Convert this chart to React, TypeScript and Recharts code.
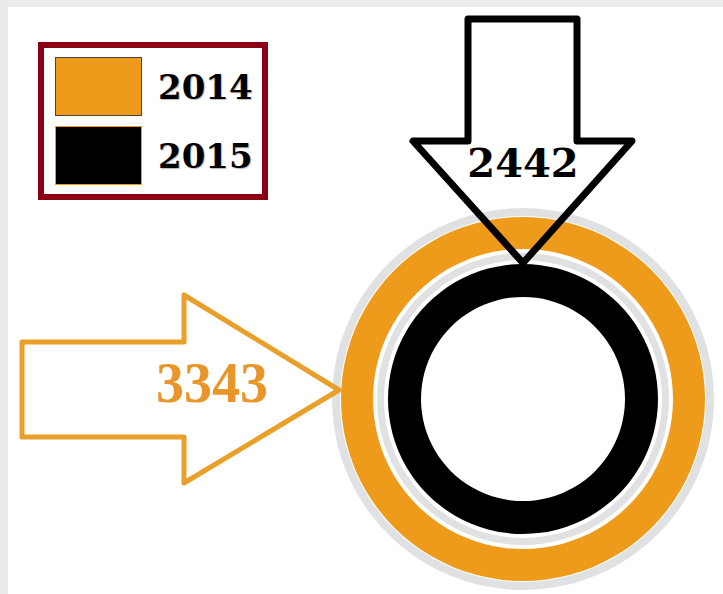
import { PieChart, Pie, Legend } from "recharts";

const years = ["2014", "2015"];
const totals = [3343, 2442];
const colors = ["#EE9A1A", "#000000"];

const ring2014 = [{ name: years[0], value: totals[0] }];
const ring2015 = [{ name: years[1], value: totals[1] }];
const track = [{ name: "track", value: 1 }];

const orangeLine = "#E9A02B";
const trackGray = "#DFE1E3";

// arrow pointing right at the outer (2014) ring
function ArrowRight(props: any) {
  const { cx, cy, outerRadius, value } = props;
  const tx = cx - outerRadius - 2;
  const ty = cy - 9;
  const pts = [
    [tx, ty], [tx - 155, ty - 95], [tx - 155, ty - 48], [tx - 317, ty - 48],
    [tx - 317, ty + 47], [tx - 155, ty + 47], [tx - 155, ty + 93],
  ].map((p) => p.join(",")).join(" ");
  return (
    <g>
      <polygon points={pts} fill="#fff" stroke={orangeLine} strokeWidth={5} strokeLinejoin="round" />
      <text x={tx - 127} y={ty + 12} textAnchor="middle" fill="#E8962A"
        fontFamily="'Liberation Serif', serif" fontWeight="bold" fontSize={56}>
        {value}
      </text>
    </g>
  );
}

// arrow pointing down at the inner (2015) ring
function ArrowDown(props: any) {
  const { cx, cy, outerRadius, value } = props;
  const tx = cx;
  const ty = cy - outerRadius - 1;
  const pts = [
    [tx, ty], [tx - 110, ty - 122], [tx - 55, ty - 122], [tx - 55, ty - 244],
    [tx + 54, ty - 244], [tx + 54, ty - 122], [tx + 109, ty - 122],
  ].map((p) => p.join(",")).join(" ");
  return (
    <g>
      <polygon points={pts} fill="none" stroke="#000" strokeWidth={7} strokeLinejoin="round" />
      <text x={tx} y={ty - 86} textAnchor="middle" fill="#000"
        fontFamily="'DejaVu Serif', serif" fontWeight="bold" fontSize={40}>
        {value}
      </text>
    </g>
  );
}

function LegendBox() {
  return (
    <div style={{
      width: 218, height: 146, border: "6px solid #8B0015", background: "#fff",
      boxSizing: "content-box", position: "relative",
    }}>
      {years.map((y, i) => (
        <div key={y} style={{ position: "absolute", left: 11, top: 9 + i * 69, display: "flex", alignItems: "center" }}>
          <div style={{
            width: 85, height: 57, background: colors[i],
            border: i === 0 ? "1px solid #444" : "1px solid #EE9A1A",
          }} />
          <span style={{
            marginLeft: 16, fontFamily: "'DejaVu Serif', serif", fontWeight: "bold",
            fontSize: 34, color: "#000", textShadow: "1px 1px 1px #bbb",
          }}>{y}</span>
        </div>
      ))}
    </div>
  );
}

export default function App() {
  return (
    <div style={{ position: "fixed", left: 0, top: 0, width: 723, height: 594, background: "#EBEBEB" }}>
      <div style={{ position: "absolute", left: 8, top: 7, width: 715, height: 587, background: "#fff" }}>
        <PieChart width={715} height={587} margin={{ top: 0, right: 0, bottom: 0, left: 0 }}>
          <Pie data={track} dataKey="value" cx={515} cy={392} innerRadius={183} outerRadius={191}
            fill={trackGray} stroke="none" isAnimationActive={false} />
          <Pie data={ring2014} dataKey="value" cx={515} cy={392} innerRadius={150} outerRadius={182}
            fill={colors[0]} stroke="none" isAnimationActive={false}
            label={ArrowRight} labelLine={false} />
          <Pie data={track} dataKey="value" cx={515} cy={392} innerRadius={139} outerRadius={146}
            fill={trackGray} stroke="none" isAnimationActive={false} />
          <Pie data={ring2015} dataKey="value" cx={515} cy={392} innerRadius={102} outerRadius={135}
            fill={colors[1]} stroke="none" isAnimationActive={false}
            label={ArrowDown} labelLine={false} />
          <Legend content={LegendBox} layout="horizontal" verticalAlign="middle" align="center"
            wrapperStyle={{ position: "absolute", left: 30, top: 35, width: 230 }} />
        </PieChart>
      </div>
    </div>
  );
}
